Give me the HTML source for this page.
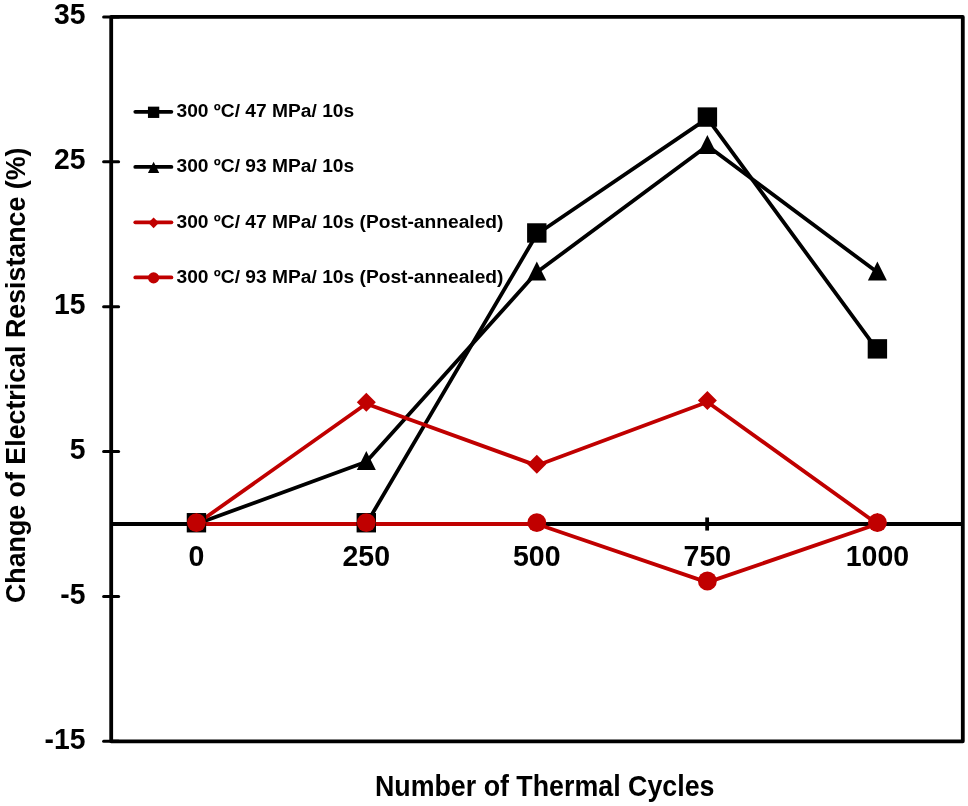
<!DOCTYPE html>
<html><head><meta charset="utf-8"><title>Change of Electrical Resistance vs Number of Thermal Cycles</title>
<style>html,body{margin:0;padding:0;background:#fff;}body{width:968px;height:806px;overflow:hidden;}svg{display:block;}text{font-family:"Liberation Sans",sans-serif;font-weight:bold;fill:#000;}svg{will-change:transform;filter:blur(0.45px);}</style></head><body>
<svg width="968" height="806" viewBox="0 0 968 806">
<rect x="0" y="0" width="968" height="806" fill="#fff"/>
<g fill="none" stroke="#000" stroke-linecap="round" stroke-linejoin="round">
<path d="M111.20 16.90 H962.80 V741.30 H111.20 Z" stroke-width="3.80"/>
<path d="M111.20 523.98 H962.80" stroke-width="3.80" stroke-linecap="butt"/>
<path d="M103.60 16.90 H118.60" stroke-width="3.00"/>
<path d="M103.60 161.78 H118.60" stroke-width="3.00"/>
<path d="M103.60 306.66 H118.60" stroke-width="3.00"/>
<path d="M103.60 451.54 H118.60" stroke-width="3.00"/>
<path d="M103.60 596.42 H118.60" stroke-width="3.00"/>
<path d="M103.60 741.30 H118.60" stroke-width="3.00"/>
<path d="M196.20 517.48 V530.58" stroke-width="3.80" stroke-linecap="butt"/>
<path d="M366.05 517.48 V530.58" stroke-width="3.80" stroke-linecap="butt"/>
<path d="M536.55 517.48 V530.58" stroke-width="3.80" stroke-linecap="butt"/>
<path d="M707.15 517.48 V530.58" stroke-width="3.80" stroke-linecap="butt"/>
<path d="M877.15 517.48 V530.58" stroke-width="3.80" stroke-linecap="butt"/>
</g>
<g fill="none" stroke-linejoin="round" stroke-linecap="round" stroke-width="3.80">
<polyline points="196.45,523.98 366.30,523.98 536.80,234.22 707.40,118.32 877.40,350.12" stroke="#000"/>
<polyline points="196.45,523.98 366.30,461.83 536.80,272.32 707.40,145.84 877.40,272.32" stroke="#000"/>
<polyline points="196.45,523.98 366.30,403.73 536.80,465.59 707.40,401.99 877.40,523.98" stroke="#c00000"/>
<polyline points="196.45,523.98 366.30,523.98 536.80,523.98 707.40,582.37 877.40,523.98" stroke="#c00000"/>
</g>
<rect x="186.75" y="513.03" width="19.40" height="19.40" fill="#000"/>
<rect x="356.60" y="513.03" width="19.40" height="19.40" fill="#000"/>
<rect x="527.10" y="223.27" width="19.40" height="19.40" fill="#000"/>
<rect x="697.70" y="107.37" width="19.40" height="19.40" fill="#000"/>
<rect x="867.70" y="339.17" width="19.40" height="19.40" fill="#000"/>
<polygon points="196.45,513.08 205.95,532.08 186.95,532.08" fill="#000"/>
<polygon points="366.30,450.93 375.80,469.93 356.80,469.93" fill="#000"/>
<polygon points="536.80,261.42 546.30,280.42 527.30,280.42" fill="#000"/>
<polygon points="707.40,134.94 716.90,153.94 697.90,153.94" fill="#000"/>
<polygon points="877.40,261.42 886.90,280.42 867.90,280.42" fill="#000"/>
<polygon points="196.45,513.08 205.95,522.58 196.45,532.08 186.95,522.58" fill="#c00000"/>
<polygon points="366.30,392.83 375.80,402.33 366.30,411.83 356.80,402.33" fill="#c00000"/>
<polygon points="536.80,454.69 546.30,464.19 536.80,473.69 527.30,464.19" fill="#c00000"/>
<polygon points="707.40,391.09 716.90,400.59 707.40,410.09 697.90,400.59" fill="#c00000"/>
<polygon points="877.40,513.08 886.90,522.58 877.40,532.08 867.90,522.58" fill="#c00000"/>
<circle cx="196.45" cy="522.58" r="9.45" fill="#c00000"/>
<circle cx="366.30" cy="522.58" r="9.45" fill="#c00000"/>
<circle cx="536.80" cy="522.58" r="9.45" fill="#c00000"/>
<circle cx="707.40" cy="580.97" r="9.45" fill="#c00000"/>
<circle cx="877.40" cy="522.58" r="9.45" fill="#c00000"/>
<text class="yt" transform="translate(85.50 24.40) scale(1 1.060)" text-anchor="end" font-size="28.30">35</text>
<text class="yt" transform="translate(85.50 169.28) scale(1 1.060)" text-anchor="end" font-size="28.30">25</text>
<text class="yt" transform="translate(85.50 314.16) scale(1 1.060)" text-anchor="end" font-size="28.30">15</text>
<text class="yt" transform="translate(85.50 459.04) scale(1 1.060)" text-anchor="end" font-size="28.30">5</text>
<text class="yt" transform="translate(85.50 603.92) scale(1 1.060)" text-anchor="end" font-size="28.30">-5</text>
<text class="yt" transform="translate(85.50 748.80) scale(1 1.060)" text-anchor="end" font-size="28.30">-15</text>
<text class="xt" transform="translate(196.45 566.30) scale(1 1.060)" text-anchor="middle" font-size="28.50">0</text>
<text class="xt" transform="translate(366.30 566.30) scale(1 1.060)" text-anchor="middle" font-size="28.50">250</text>
<text class="xt" transform="translate(536.80 566.30) scale(1 1.060)" text-anchor="middle" font-size="28.50">500</text>
<text class="xt" transform="translate(707.40 566.30) scale(1 1.060)" text-anchor="middle" font-size="28.50">750</text>
<text class="xt" transform="translate(877.40 566.30) scale(1 1.060)" text-anchor="middle" font-size="28.50">1000</text>
<text class="xtitle" transform="translate(544.70 795.60) scale(1 1.070)" text-anchor="middle" font-size="26.80">Number of Thermal Cycles</text>
<text class="ytitle" transform="translate(24.50 375.30) rotate(-90) scale(1 1.040)" text-anchor="middle" font-size="26.80">Change of Electrical Resistance (%)</text>
<path d="M135.3 111.80 H171.4" stroke="#000" stroke-width="3.80" stroke-linecap="round" fill="none"/>
<rect x="147.95" y="106.65" width="11.30" height="11.30" fill="#000"/>
<text class="lg" transform="translate(176.50 117.20) scale(1 1.000)" text-anchor="start" font-size="19.20">300 ºC/ 47 MPa/ 10s</text>
<path d="M135.3 166.90 H171.4" stroke="#000" stroke-width="3.80" stroke-linecap="round" fill="none"/>
<polygon points="153.60,161.75 159.25,173.05 147.95,173.05" fill="#000"/>
<text class="lg" transform="translate(176.50 172.30) scale(1 1.000)" text-anchor="start" font-size="19.20">300 ºC/ 93 MPa/ 10s</text>
<path d="M135.3 222.30 H171.4" stroke="#c00000" stroke-width="3.80" stroke-linecap="round" fill="none"/>
<polygon points="153.60,217.45 158.95,222.80 153.60,228.15 148.25,222.80" fill="#c00000"/>
<text class="lg" transform="translate(176.50 227.70) scale(1 1.000)" text-anchor="start" font-size="19.20">300 ºC/ 47 MPa/ 10s (Post-annealed)</text>
<path d="M135.3 277.40 H171.4" stroke="#c00000" stroke-width="3.80" stroke-linecap="round" fill="none"/>
<circle cx="153.60" cy="277.90" r="5.60" fill="#c00000"/>
<text class="lg" transform="translate(176.50 282.80) scale(1 1.000)" text-anchor="start" font-size="19.20">300 ºC/ 93 MPa/ 10s (Post-annealed)</text>
</svg></body></html>
